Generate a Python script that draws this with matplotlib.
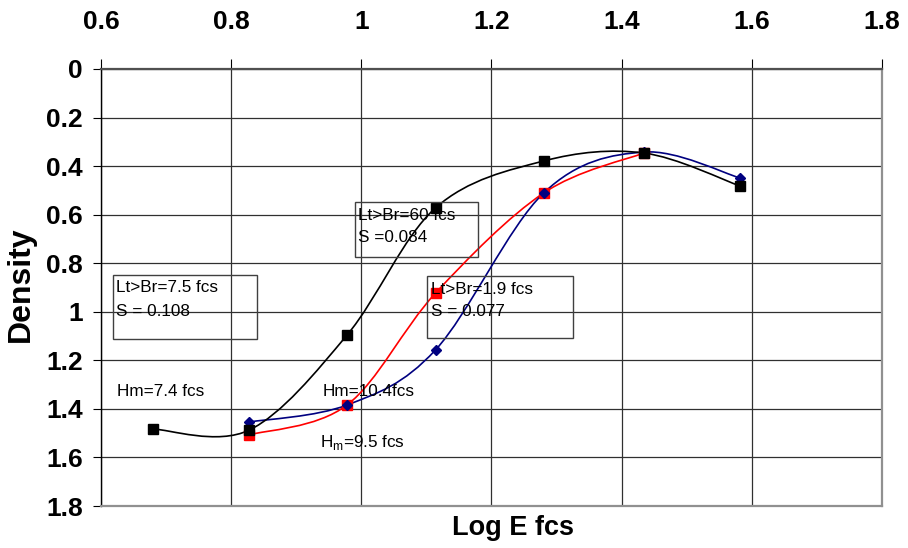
import numpy as np
import matplotlib
matplotlib.use("Agg")
import matplotlib.pyplot as plt
from matplotlib.path import Path
from matplotlib.patches import PathPatch, Rectangle

plt.rcParams['font.family'] = ['Liberation Sans', 'DejaVu Sans']

# Log exposure (fcs) and density readings for the three curves
black_x = [0.68, 0.828, 0.978, 1.114, 1.28, 1.434, 1.582]
black_y = [1.483, 1.487, 1.096, 0.572, 0.379, 0.346, 0.482]

red_x = [0.828, 0.978, 1.114, 1.28, 1.434]
red_y = [1.507, 1.384, 0.923, 0.511, 0.346]

blue_x = [0.828, 0.978, 1.114, 1.28, 1.434, 1.582]
blue_y = [1.454, 1.384, 1.157, 0.511, 0.342, 0.449]

x_ticks = [0.6, 0.8, 1.0, 1.2, 1.4, 1.6, 1.8]
x_tick_labels = ['0.6', '0.8', '1', '1.2', '1.4', '1.6', '1.8']
y_ticks = [0, 0.2, 0.4, 0.6, 0.8, 1.0, 1.2, 1.4, 1.6, 1.8]
y_tick_labels = ['0', '0.2', '0.4', '0.6', '0.8', '1', '1.2', '1.4', '1.6', '1.8']

W, H = 908, 548
fig = plt.figure(figsize=(W / 100, H / 100), dpi=100)
ax = fig.add_axes([101 / W, 1 - 506 / H, 781 / W, 437 / H])
ax.set_xlim(0.6, 1.8)
ax.set_ylim(1.8, 0)

ax.xaxis.tick_top()
ax.set_xticks(x_ticks)
ax.set_xticklabels(x_tick_labels)
ax.set_yticks(y_ticks)
ax.set_yticklabels(y_tick_labels)
ax.tick_params(axis='x', which='both', direction='out', length=7, width=0.8,
               pad=18, labelsize=19, colors='#000000')
ax.tick_params(axis='y', which='both', direction='out', length=6, width=0.8,
               pad=7, labelsize=19)
for lab in ax.get_xticklabels() + ax.get_yticklabels():
    lab.set_fontweight('bold')

ax.grid(True, color='#303030', linewidth=0.9)
ax.set_axisbelow(True)
ax.spines['top'].set_color('#505050')
ax.spines['top'].set_linewidth(1.6)
ax.spines['left'].set_color('#000000')
ax.spines['left'].set_linewidth(1.0)
ax.spines['right'].set_color('#909090')
ax.spines['right'].set_linewidth(1.6)
ax.spines['bottom'].set_color('#909090')
ax.spines['bottom'].set_linewidth(1.6)


def smooth_path(xs, ys):
    """Spreadsheet-style smoothed line: cubic Bezier segments built in screen space."""
    pts = ax.transData.transform(np.column_stack([xs, ys]))
    n = len(pts)
    verts = [pts[0]]
    codes = [Path.MOVETO]
    for i in range(n - 1):
        p_prev = pts[i - 1] if i > 0 else pts[i]
        p0, p1 = pts[i], pts[i + 1]
        p_next = pts[i + 2] if i + 2 < n else pts[i + 1]
        c1 = p0 + (p1 - p_prev) / 6.0
        c2 = p1 - (p_next - p0) / 6.0
        verts += [c1, c2, p1]
        codes += [Path.CURVE4] * 3
    verts = ax.transData.inverted().transform(np.array(verts))
    return Path(verts, codes)


series = [
    (red_x, red_y, '#ff0000', 's', 6.5),
    (blue_x, blue_y, '#000080', 'D', 5.5),
    (black_x, black_y, '#000000', 's', 6.5),
]
for z, (xs, ys, col, mk, ms) in enumerate(series):
    ax.add_patch(PathPatch(smooth_path(xs, ys), facecolor='none', edgecolor=col,
                           linewidth=1.2, zorder=3 + z))
    ax.plot(xs, ys, linestyle='none', marker=mk, markersize=ms, color=col,
            markeredgecolor=col, zorder=6 + z, clip_on=False)


def fx(px):
    return px / W


def fy(py):
    return 1 - py / H


# Annotation boxes
for (x0, y0, x1, y1) in [(113, 275, 257, 339), (355, 202, 478, 257), (427, 276, 573, 338)]:
    fig.patches.append(Rectangle((fx(x0), fy(y1)), (x1 - x0) / W, (y1 - y0) / H,
                                 transform=fig.transFigure, fill=False,
                                 edgecolor='#404040', linewidth=1.0, zorder=10))

notes = [
    (116, 287, 'Lt>Br=7.5 fcs'),
    (116, 311, 'S = 0.108'),
    (358, 215, 'Lt>Br=60 fcs'),
    (358, 238, 'S =0.084'),
    (431, 289, 'Lt>Br=1.9 fcs'),
    (431, 312, 'S = 0.077'),
    (117, 392, 'Hm=7.4 fcs'),
    (323, 392, 'Hm=10.4fcs'),
    (320, 443, r'H$_\mathregular{m}$=9.5 fcs'),
]
for px, py, s in notes:
    fig.text(fx(px), fy(py), s, fontsize=12.3, ha='left', va='center', zorder=11)

fig.text(fx(513), fy(528), 'Log E fcs', fontsize=19.5, fontweight='bold',
         ha='center', va='center')
fig.text(fx(21), fy(284), 'Density', fontsize=23, fontweight='bold',
         ha='center', va='center', rotation=90)

fig.savefig('out.png', dpi=100)
